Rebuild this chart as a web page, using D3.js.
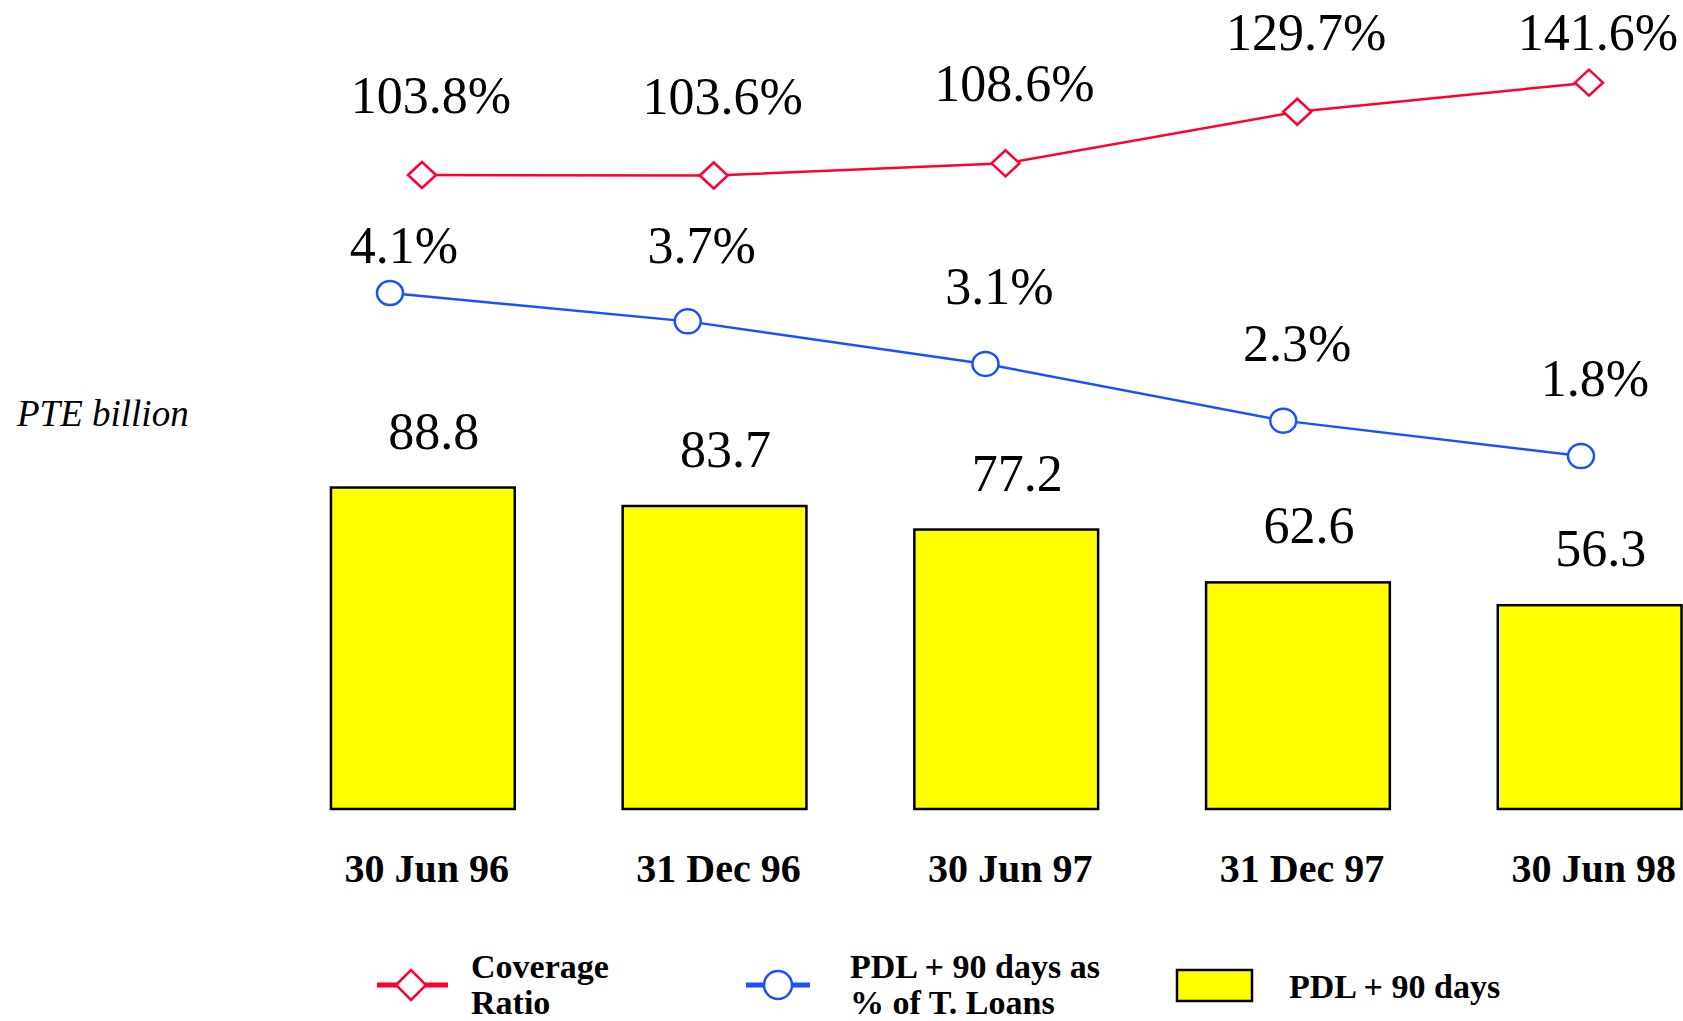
<!DOCTYPE html>
<html><head><meta charset="utf-8">
<script src="https://cdn.jsdelivr.net/npm/d3@7"></script>
<style>body{margin:0;background:#fff}svg{display:block}</style>
</head><body>
<svg id="c" width="1683" height="1021"></svg>
<script>
const categories = ["30 Jun 96","31 Dec 96","30 Jun 97","31 Dec 97","30 Jun 98"];
const pdlValues = [88.8, 83.7, 77.2, 62.6, 56.3];
const coverageRatio = [103.8, 103.6, 108.6, 129.7, 141.6];
const pdlPctLoans = [4.1, 3.7, 3.1, 2.3, 1.8];
const legendLabels = [["Coverage","Ratio"],["PDL + 90 days as","% of T. Loans"],["PDL + 90 days"]];
const unitLabel = "PTE billion";

const RED = "#ff0030", BLUE = "#1a50ff", YELLOW = "#ffff00";
const FONT = "'Liberation Serif','Times New Roman',serif";
const svg = d3.select("#c");

const x = d3.scaleBand().domain(categories).range([277, 1735.5]).paddingInner(0.37).paddingOuter(0.185);
const yBar = d3.scaleLinear().domain([0, 100]).range([809, 447]);
const xCov = d3.scalePoint().domain(categories).range([422, 1589]);
const yCov = d3.scaleLinear().domain([80, 150]).range([233.2, 62.1]);
const xPct = d3.scalePoint().domain(categories).range([390, 1581]);
const yPct = d3.scaleLinear().domain([0, 5]).range([583.7, 229.2]);

// bars
svg.append("g").selectAll("rect").data(pdlValues).join("rect")
  .attr("x", (d,i) => x(categories[i])).attr("width", x.bandwidth())
  .attr("y", d => yBar(d)).attr("height", d => yBar(0) - yBar(d))
  .attr("fill", YELLOW).attr("stroke", "#000").attr("stroke-width", 2.5);
svg.append("g").selectAll("text").data(pdlValues).join("text")
  .attr("x", (d,i) => x(categories[i]) + x.bandwidth()/2 + 11)
  .attr("y", d => yBar(d) - 39)
  .attr("text-anchor","middle").attr("font-family",FONT).attr("font-size",52)
  .text(d => d.toFixed(1));

// x axis labels
const xAxis = d3.axisBottom(x).tickSize(0).tickPadding(0);
const gx = svg.append("g").attr("transform","translate(4,854)").call(xAxis);
gx.select(".domain").remove();
gx.selectAll("text").attr("font-family",FONT).attr("font-size",40).attr("font-weight","bold").attr("fill","#000").attr("dy","0.71em");

// coverage line
const diamond = (cx, cy, hw, hh) => `M${cx-hw},${cy}L${cx},${cy-hh}L${cx+hw},${cy}L${cx},${cy+hh}Z`;
svg.append("path").datum(coverageRatio)
  .attr("d", d3.line().x((d,i)=>xCov(categories[i])).y(d=>yCov(d)))
  .attr("fill","none").attr("stroke",RED).attr("stroke-width",2.5);
svg.append("g").selectAll("path").data(coverageRatio).join("path")
  .attr("d",(d,i)=>diamond(xCov(categories[i]), yCov(d), 14, 13))
  .attr("fill","#fff").attr("stroke",RED).attr("stroke-width",2.5);
svg.append("g").selectAll("text").data(coverageRatio).join("text")
  .attr("x",(d,i)=>xCov(categories[i]) + 9)
  .attr("y", d => Math.max(yCov(d) - 62, 50))
  .attr("text-anchor","middle").attr("font-family",FONT).attr("font-size",52)
  .text(d => d.toFixed(1) + "%");

// pct line
svg.append("path").datum(pdlPctLoans)
  .attr("d", d3.line().x((d,i)=>xPct(categories[i])).y(d=>yPct(d)))
  .attr("fill","none").attr("stroke",BLUE).attr("stroke-width",2.5);
svg.append("g").selectAll("ellipse").data(pdlPctLoans).join("ellipse")
  .attr("cx",(d,i)=>xPct(categories[i])).attr("cy",d=>yPct(d))
  .attr("rx",13).attr("ry",12)
  .attr("fill","#fff").attr("stroke",BLUE).attr("stroke-width",2.5);
svg.append("g").selectAll("text").data(pdlPctLoans).join("text")
  .attr("x",(d,i)=>xPct(categories[i]) + 14)
  .attr("y", d => Math.max(yPct(d) - 60, 263))
  .attr("text-anchor","middle").attr("font-family",FONT).attr("font-size",52)
  .text(d => d.toFixed(1) + "%");

// unit label
svg.append("text").attr("x",17).attr("y",426).attr("font-family",FONT)
  .attr("font-size",37).attr("font-style","italic").text(unitLabel);

// legend
const lg = svg.append("g").attr("font-family",FONT).attr("font-size",34).attr("font-weight","bold");
lg.append("line").attr("x1",377).attr("x2",448).attr("y1",985).attr("y2",985).attr("stroke",RED).attr("stroke-width",5);
lg.append("path").attr("d",diamond(411,985,15,15)).attr("fill","#fff").attr("stroke",RED).attr("stroke-width",2.5);
lg.append("text").attr("x",471).attr("y",978).text(legendLabels[0][0]);
lg.append("text").attr("x",471).attr("y",1014).text(legendLabels[0][1]);
lg.append("line").attr("x1",746).attr("x2",810).attr("y1",985).attr("y2",985).attr("stroke",BLUE).attr("stroke-width",5);
lg.append("ellipse").attr("cx",778).attr("cy",985).attr("rx",14).attr("ry",14).attr("fill","#fff").attr("stroke",BLUE).attr("stroke-width",2.5);
lg.append("text").attr("x",850).attr("y",978).text(legendLabels[1][0]);
lg.append("text").attr("x",850).attr("y",1014).text(legendLabels[1][1]);
lg.append("rect").attr("x",1177).attr("y",970).attr("width",75).attr("height",31).attr("fill",YELLOW).attr("stroke","#000").attr("stroke-width",2.5);
lg.append("text").attr("x",1289).attr("y",998).text(legendLabels[2][0]);
</script>
</body></html>
